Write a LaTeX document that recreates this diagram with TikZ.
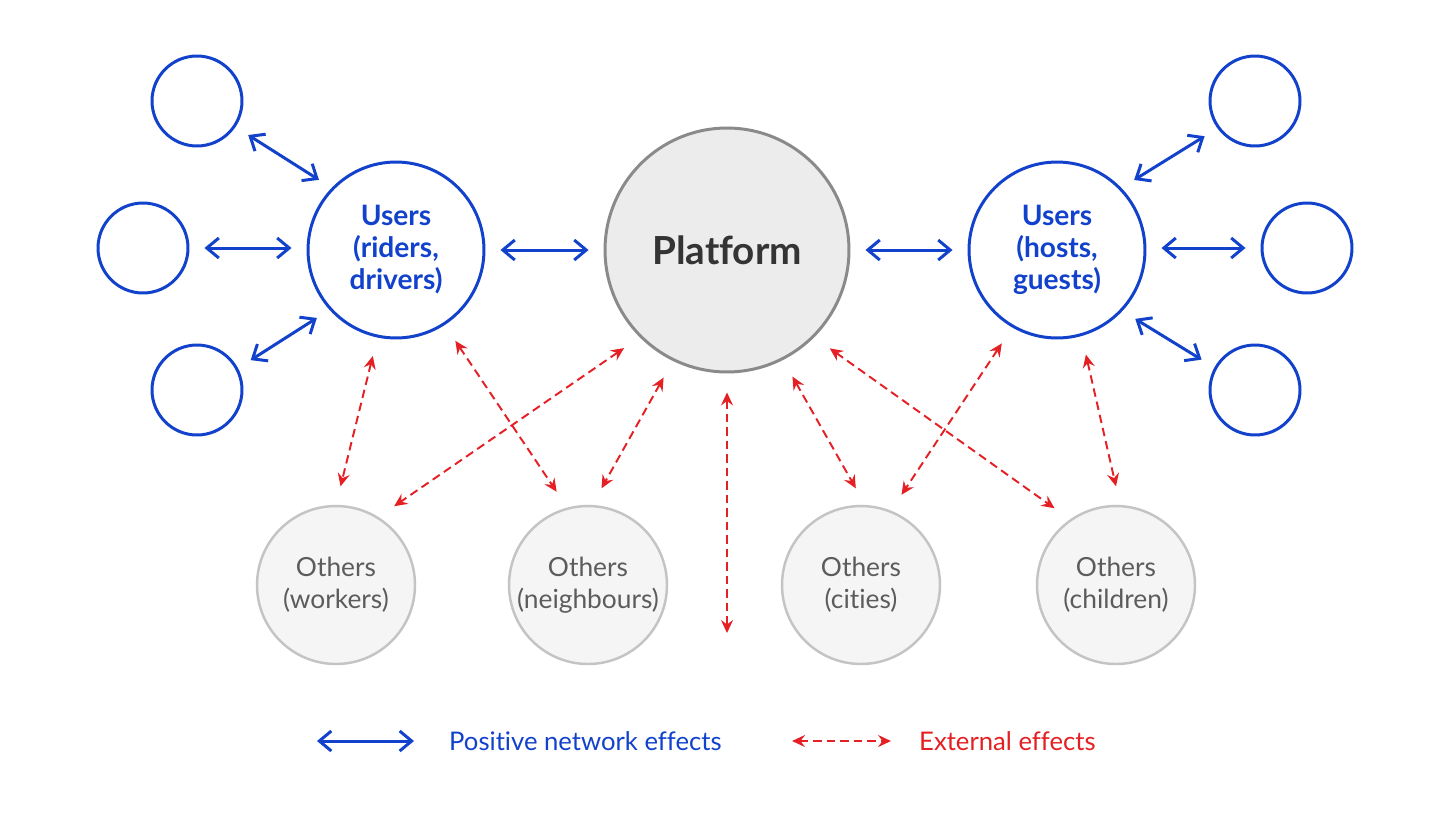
\documentclass[tikz,border=0pt]{standalone}
\usepackage{fontspec}
\setmainfont{Lato}[Ligatures=NoCommon]
\usetikzlibrary{arrows.meta}

\definecolor{netblue}{RGB}{18,66,204}
\definecolor{extred}{RGB}{228,32,36}
\definecolor{hubfill}{RGB}{236,236,236}
\definecolor{hubline}{RGB}{138,138,138}
\definecolor{hubtext}{RGB}{52,52,52}
\definecolor{otherfill}{RGB}{245,245,245}
\definecolor{otherline}{RGB}{196,196,196}
\definecolor{othertext}{RGB}{92,92,92}

\begin{document}
\begin{tikzpicture}[
  x=0.02cm, y=-0.02cm,
  hub/.style={circle, draw=hubline, line width=1.7pt, fill=hubfill, inner sep=0pt, minimum size=4.88cm, text=hubtext, font=\fontsize{22}{26}\selectfont\bfseries},
  user/.style={circle, draw=netblue, line width=1.7pt, fill=white, inner sep=0pt, minimum size=3.52cm, text=netblue, align=center, font=\fontsize{16}{18.2}\selectfont\bfseries},
  peer/.style={circle, draw=netblue, line width=1.7pt, fill=white, inner sep=0pt, minimum size=1.8cm},
  other/.style={circle, draw=otherline, line width=1.4pt, fill=otherfill, inner sep=0pt, minimum size=3.16cm, text=othertext, align=center, font=\fontsize{15}{18.2}\selectfont},
  posfx/.style={draw=netblue, line width=1.7pt, >={Straight Barb[length=0.24cm, width=0.4cm]}, <->, shorten >=0.3cm, shorten <=0.3cm},
  extfx/.style={draw=extred, line width=1.1pt, dash pattern=on 0.17cm off 0.1cm, >={Stealth[length=0.26cm, width=0.24cm, inset=0.09cm]}, <->, shorten >=0.38cm, shorten <=0.38cm},
  legendtext/.style={anchor=west, font=\fontsize{14.6}{16}\selectfont}
]
\fill[white] (0,0) rectangle (1456,819);

% Centre
\node[hub] (plat) at (727,250) {Platform};

% Left: riders and drivers
\node[user] (uL) at (396,250) {Users\\(riders,\\drivers)};
\node[peer] (sl1) at (197,101) {};
\node[peer] (sl2) at (143,248) {};
\node[peer] (sl3) at (197,390) {};

% Right: hosts and guests
\node[user] (uR) at (1057,250) {Users\\(hosts,\\guests)};
\node[peer] (sr1) at (1255,101) {};
\node[peer] (sr2) at (1307,248) {};
\node[peer] (sr3) at (1255,390) {};

% Bottom row
\node[other] (ow) at (336,585) {Others\\(workers)};
\node[other] (on) at (588,585) {Others\\(neighbours)};
\node[other] (oc) at (861,585) {Others\\(cities)};
\node[other] (oh) at (1116,585) {Others\\(children)};
\coordinate (pend) at (727,633);

% Positive network effects
\draw[posfx] (sl1.-34) -- (uL.136);
\draw[posfx] (sl2.east) -- (sl2.east -| uL.west);
\draw[posfx] (sl3.28) -- (uL.-138);
\draw[posfx] (uL.east) -- (plat.west);
\draw[posfx] (plat.east) -- (uR.west);
\draw[posfx] (uR.44) -- (sr1.-144);
\draw[posfx] (sr2.west -| uR.east) -- (sr2.west);
\draw[posfx] (uR.-43) -- (sr3.151);

% External effects
\draw[extfx] (uL.-102) -- (ow.90);
\draw[extfx] (uL.-57) -- (on.105);
\draw[extfx] (plat.-135) -- (ow.58);
\draw[extfx] (plat.-116) -- (on.87);
\draw[extfx, shorten >=0pt] (plat.south) -- (pend);
\draw[extfx] (plat.-63) -- (oc.87);
\draw[extfx] (uR.-120) -- (oc.68);
\draw[extfx] (plat.-45) -- (oh.125);
\draw[extfx] (uR.-74) -- (oh.87);

% Legend
\coordinate (lp1) at (317,741);
\coordinate (lp2) at (414,741);
\coordinate (le1) at (792,741);
\coordinate (le2) at (891,741);
\draw[posfx, shorten >=0pt, shorten <=0pt] (lp1) -- (lp2);
\node[legendtext, text=netblue] (lpos) at (443,741) {Positive network effects};
\draw[extfx, shorten >=0pt, shorten <=0pt] (le1) -- (le2);
\node[legendtext, text=extred] (lext) at (913,741) {External effects};
\end{tikzpicture}
\end{document}
